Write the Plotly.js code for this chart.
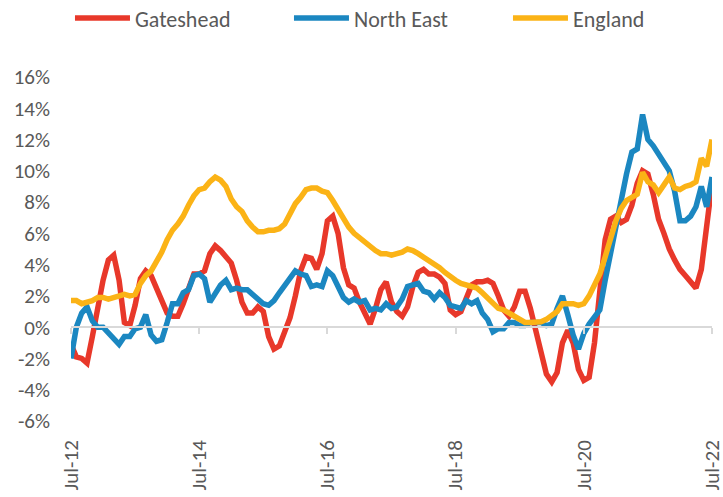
<!DOCTYPE html>
<html><head><meta charset="utf-8">
<script src="https://cdn.plot.ly/plotly-3.0.1.min.js"></script>
<style>html,body{margin:0;padding:0;background:#fff}#chart{width:723px;height:497px}</style>
</head><body><div id="chart"></div>
<script>
// Month categories Jul-12 .. Jul-22
const monthNames = ['Jan','Feb','Mar','Apr','May','Jun','Jul','Aug','Sep','Oct','Nov','Dec'];
const months = [];
for (let i = 0; i <= 120; i++) {
  const m = (6 + i) % 12;
  const y = 2012 + Math.floor((6 + i) / 12);
  months.push(monthNames[m] + '-' + String(y % 100).padStart(2, '0'));
}
const xTickLabels = ['Jul-12','Jul-14','Jul-16','Jul-18','Jul-20','Jul-22'];
const yTickVals = [-6,-4,-2,0,2,4,6,8,10,12,14,16];
const yTickText = ['-6%','-4%','-2%','0%','2%','4%','6%','8%','10%','12%','14%','16%'];

const gateshead = [
 -1.1,-1.9,-2.0,-2.3,-0.6,1.3,3.0,4.3,4.6,3.0,0.3,0.1,1.4,3.1,3.6,3.3,2.5,1.5,0.9,0.7,0.7,1.5,2.5,3.4,3.4,
 3.6,4.7,5.2,4.9,4.5,4.1,3.0,1.6,0.9,0.9,1.3,1.0,-0.6,-1.4,-1.2,-0.3,0.6,2.0,3.6,4.5,4.4,3.7,4.7,6.8,
 7.1,6.0,3.8,2.7,2.5,1.6,0.9,0.2,1.2,2.4,2.9,1.6,1.0,0.7,1.3,2.6,3.5,3.7,3.4,3.4,3.2,2.8,1.1,0.8,
 1.0,1.9,2.7,2.9,2.9,3.0,2.8,2.0,1.1,0.7,1.3,2.3,2.3,1.2,-0.2,-1.6,-3.0,-3.5,-2.9,-1.0,-0.2,-1.0,-2.7,-3.4,
 -3.2,-1.0,2.3,5.6,6.9,7.1,6.7,6.9,7.8,9.2,10.0,9.8,8.5,6.9,6.0,5.0,4.3,3.7,3.3,2.9,2.5,3.7,6.2,9.2
];
const northEast = [
 -2.0,0.0,0.9,1.3,0.4,0.0,0.0,-0.4,-0.8,-1.1,-0.6,-0.6,-0.1,0.0,0.8,-0.5,-0.9,-0.8,0.3,1.5,1.5,2.2,2.4,3.3,3.4,
 3.1,1.6,2.2,2.7,3.0,2.4,2.5,2.4,2.4,2.1,1.8,1.5,1.4,1.7,2.2,2.7,3.2,3.6,3.4,3.3,2.6,2.7,2.6,3.6,
 3.3,2.6,1.9,1.6,1.8,1.6,1.7,1.1,1.2,1.1,1.5,1.2,1.3,1.8,2.6,2.7,2.8,2.3,2.2,1.8,2.2,1.9,1.4,1.3,
 1.2,1.7,1.5,1.7,0.9,0.5,-0.3,-0.1,-0.1,0.3,0.3,0.1,0.1,0.3,0.3,0.3,0.1,0.2,1.2,2.0,0.8,-0.5,-1.4,-0.4,
 0.2,0.6,1.1,3.0,4.8,6.4,8.2,9.8,11.2,11.4,13.6,12.0,11.6,11.1,10.6,10.0,8.7,6.8,6.8,7.1,7.7,9.0,7.7,9.6
];
const england = [
 1.7,1.7,1.5,1.6,1.7,1.9,1.9,1.8,1.9,2.0,2.1,2.0,2.1,2.8,3.3,3.6,4.2,4.8,5.6,6.2,6.6,7.1,7.8,8.4,8.8,
 8.9,9.3,9.6,9.4,9.0,8.2,7.7,7.4,6.8,6.4,6.1,6.1,6.2,6.2,6.3,6.6,7.2,7.9,8.3,8.8,8.9,8.9,8.7,8.6,
 8.1,7.5,6.9,6.4,6.0,5.7,5.5,5.1,4.9,4.7,4.7,4.6,4.7,4.8,5.0,4.9,4.7,4.5,4.3,4.1,3.8,3.5,3.2,3.0,
 2.8,2.7,2.6,2.5,2.2,1.9,1.5,1.2,1.1,0.9,0.7,0.5,0.3,0.3,0.3,0.35,0.5,0.7,1.0,1.5,1.5,1.5,1.4,1.5,
 2.0,2.7,3.4,4.5,5.8,6.8,7.6,8.1,8.3,8.5,9.9,9.3,9.1,8.6,9.1,9.6,8.9,8.8,9.0,9.1,9.3,10.8,10.3,12.0
];

const FONT = 'Carlito, Lato, sans-serif';
const GREY = '#595959';
const AXIS = '#d9d9d9';

const mk = (name, ys, color) => ({
  type: 'scatter', mode: 'lines', name, x: months, y: ys,
  line: {color, width: 5.5}, hoverinfo: 'skip'
});

const traces = [
  mk('Gateshead', gateshead, '#E8382A'),
  mk('North East', northEast, '#1B87C1'),
  mk('England', england, '#FBB316'),
  // invisible helper so the zero-line axis (tick marks) is drawn
  {type: 'scatter', mode: 'lines', x: [months[0], months[120]], y: [0, 0], xaxis: 'x2',
   line: {width: 0}, showlegend: false, hoverinfo: 'skip'}
];

const layout = {
  width: 723, height: 497,
  margin: {l: 71, r: 11, t: 77, b: 76, autoexpand: false},
  paper_bgcolor: '#fff', plot_bgcolor: '#fff',
  font: {family: FONT, color: GREY, size: 21},
  showlegend: true,
  legend: {
    orientation: 'h', xref: 'paper', yref: 'paper',
    x: -0.0016, y: 1.232, xanchor: 'left', yanchor: 'top',
    entrywidth: 149, entrywidthmode: 'pixels', itemwidth: 55,
    font: {family: FONT, color: GREY, size: 22}
  },
  xaxis: {
    type: 'category', range: [0, 120], categoryorder: 'array', categoryarray: months,
    tickvals: xTickLabels, ticktext: xTickLabels, tickangle: -90,
    showline: false, showgrid: false, zeroline: false, ticks: '',
    ticklabelstandoff: 14,
    tickfont: {family: FONT, color: GREY, size: 21}
  },
  xaxis2: {
    type: 'category', overlaying: 'x', anchor: 'free', position: 6 / 22,
    range: [0, 120], categoryorder: 'array', categoryarray: months,
    tickvals: xTickLabels, showticklabels: false,
    showline: true, linecolor: AXIS, linewidth: 2,
    ticks: 'outside', ticklen: 6, tickwidth: 2, tickcolor: AXIS,
    showgrid: false, zeroline: false
  },
  yaxis: {
    range: [-6, 16], tickvals: yTickVals, ticktext: yTickText,
    showgrid: false, zeroline: false, showline: false, ticks: '',
    ticklabelstandoff: 20,
    tickfont: {family: FONT, color: GREY, size: 21}
  }
};

Plotly.newPlot('chart', traces, layout, {displayModeBar: false, staticPlot: true});
</script>
</body></html>
